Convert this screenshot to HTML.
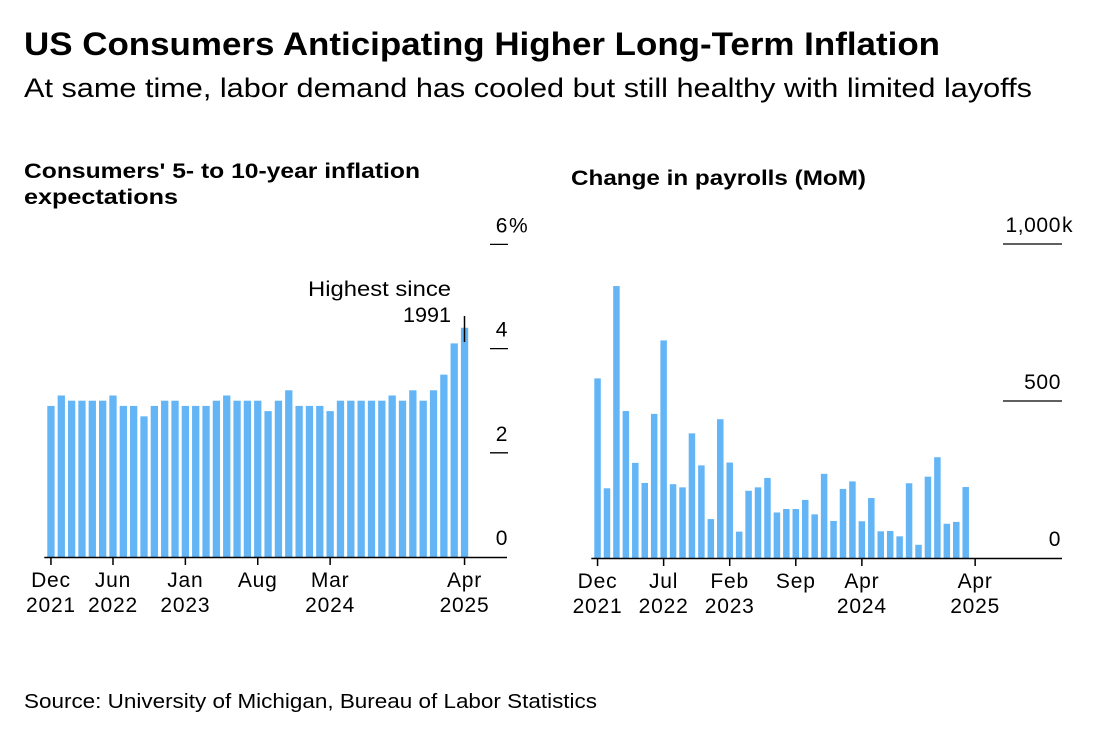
<!DOCTYPE html>
<html><head><meta charset="utf-8"><style>
body{margin:0;background:#fff;width:1101px;height:745px;overflow:hidden;font-family:"Liberation Sans",sans-serif;color:#000}
</style></head><body>
<svg width="1101" height="745" style="position:absolute;left:0;top:0" font-family="Liberation Sans, sans-serif">
<text x="24" y="55" font-size="32" font-weight="bold" textLength="916" lengthAdjust="spacingAndGlyphs">US Consumers Anticipating Higher Long-Term Inflation</text>
<text x="24" y="97" font-size="27" textLength="1008" lengthAdjust="spacingAndGlyphs">At same time, labor demand has cooled but still healthy with limited layoffs</text>
<text x="24" y="178" font-size="21" font-weight="bold" textLength="396" lengthAdjust="spacingAndGlyphs">Consumers' 5- to 10-year inflation</text>
<text x="24" y="204" font-size="21" font-weight="bold" textLength="154" lengthAdjust="spacingAndGlyphs">expectations</text>
<text x="571" y="185" font-size="21" font-weight="bold" textLength="295" lengthAdjust="spacingAndGlyphs">Change in payrolls (MoM)</text>
<text x="24" y="708" font-size="20" textLength="573" lengthAdjust="spacingAndGlyphs">Source: University of Michigan, Bureau of Labor Statistics</text>
<g id="left"></g>
<g id="right"></g>
</svg>
<script>
const inflMonths=["Dec 2021","Jan 2022","Feb 2022","Mar 2022","Apr 2022","May 2022","Jun 2022","Jul 2022","Aug 2022","Sep 2022","Oct 2022","Nov 2022","Dec 2022","Jan 2023","Feb 2023","Mar 2023","Apr 2023","May 2023","Jun 2023","Jul 2023","Aug 2023","Sep 2023","Oct 2023","Nov 2023","Dec 2023","Jan 2024","Feb 2024","Mar 2024","Apr 2024","May 2024","Jun 2024","Jul 2024","Aug 2024","Sep 2024","Oct 2024","Nov 2024","Dec 2024","Jan 2025","Feb 2025","Mar 2025","Apr 2025"];
const inflValues=[2.9,3.1,3.0,3.0,3.0,3.0,3.1,2.9,2.9,2.7,2.9,3.0,3.0,2.9,2.9,2.9,3.0,3.1,3.0,3.0,3.0,2.8,3.0,3.2,2.9,2.9,2.9,2.8,3.0,3.0,3.0,3.0,3.0,3.1,3.0,3.2,3.0,3.2,3.5,4.1,4.4];
const inflTicks=[6,4,2,0];
const inflTickLabels=["6","4","2","0"];
const inflTickSuffix=["%","","",""];
const inflXTickIdx=[0,6,13,20,27,40];
const inflXLabels=[["Dec","2021"],["Jun","2022"],["Jan","2023"],["Aug",""],["Mar","2024"],["Apr","2025"]];
const payValues=[572,222,866,468,303,239,459,693,235,225,397,295,124,442,304,84,214,225,255,145,156,156,185,139,268,118,220,244,117,191,85,86,69,238,42,259,321,109,115,226];
const payTicks=[1000,500,0];
const payTickLabels=["1,000","500","0"];
const payTickSuffix=["k","",""];
const payXTickIdx=[0,7,14,21,28,40];
const payXLabels=[["Dec","2021"],["Jul","2022"],["Feb","2023"],["Sep",""],["Apr","2024"],["Apr","2025"]];
const NS="http://www.w3.org/2000/svg";
function mk(p,t,a){const e=document.createElementNS(NS,t);for(const k in a)e.setAttribute(k,a[k]);p.appendChild(e);return e;}
function chart(g,vals,x0,pitch,bw,y0,scale,ticks,tlabels,tsuf,tlx,tlineX1,tlineX2,xIdx,xLabs,axisEnd){
  const yS=v=>y0-v*scale, xS=i=>x0+i*pitch;
  vals.forEach((v,i)=>{const r=mk(g,'rect',{x:xS(i),y:yS(v),width:bw,height:y0-yS(v),fill:'#64b5f6'});
    
    });
  ticks.forEach((t,i)=>{
    const lab=mk(g,'text',{x:tlx,y:yS(t)-12,'font-size':21,'text-anchor':'end','letter-spacing':0.6});lab.textContent=tlabels[i];
    
    
    if(tsuf[i]){const s=mk(g,'text',{x:tlx+1,y:yS(t)-12,'font-size':21});s.textContent=tsuf[i];
      
      }
    if(t!==0){const l=mk(g,'line',{x1:tlineX1,x2:tlineX2,y1:yS(t),y2:yS(t),stroke:'#000','stroke-width':1.3});
      
      }
  });
  const ax=mk(g,'line',{x1:x0-3,x2:axisEnd,y1:y0+0.5,y2:y0+0.5,stroke:'#000','stroke-width':1.5});
  
  
  xIdx.forEach((idx,j)=>{const cx=xS(idx)+bw/2;
    const t=mk(g,'line',{x1:cx,x2:cx,y1:y0,y2:y0+8,stroke:'#000','stroke-width':1.5});
    
    
    xLabs[j].forEach((s,k)=>{if(!s)return;const tx=mk(g,'text',{x:cx,y:y0+30+k*25,'font-size':21,'text-anchor':'middle','letter-spacing':0.8});tx.textContent=s;
      
      });
  });
  return {xS,yS};
}
const L=document.getElementById('left'),R=document.getElementById('right');
const lc=chart(L,inflValues,47.3,10.34,7.3,557,52.1,inflTicks,inflTickLabels,inflTickSuffix,508,490,508,inflXTickIdx,inflXLabels,507);
chart(R,payValues,594.3,9.44,6.5,558,0.314,payTicks,payTickLabels,payTickSuffix,1061,1003,1062,payXTickIdx,payXLabels,1062);
const lastX=lc.xS(inflValues.length-1)+3.6;
const an=mk(L,'line',{x1:lastX,x2:lastX,y1:316,y2:342,stroke:'#000','stroke-width':1.5});


[["Highest since",296,143],["1991",322,48]].forEach(([s,y,w])=>{const t=mk(L,'text',{x:451-w,y:y,'font-size':21,textLength:w,lengthAdjust:'spacingAndGlyphs'});t.textContent=s;
  
  });
</script>
</body></html>
